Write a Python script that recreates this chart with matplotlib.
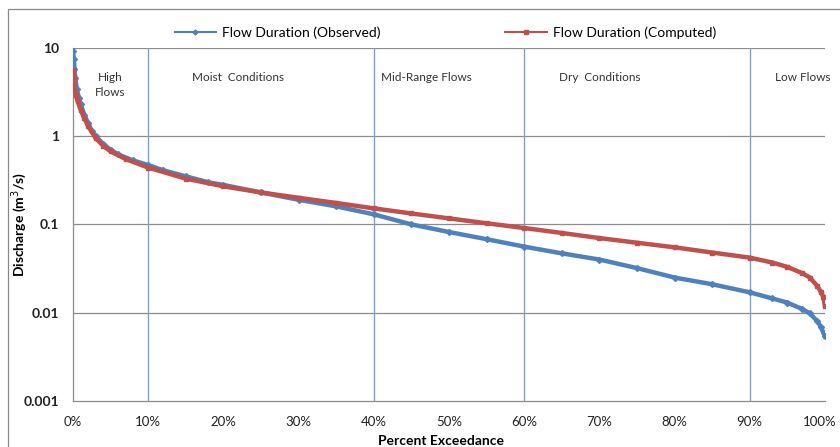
import matplotlib
matplotlib.use("Agg")
import matplotlib.pyplot as plt
from matplotlib.patches import Rectangle
from matplotlib.lines import Line2D
from matplotlib.transforms import ScaledTranslation
from matplotlib.ticker import FixedLocator, FuncFormatter

plt.rcParams['font.family'] = ['Lato', 'DejaVu Sans']

# observed flow duration curve (percent exceedance, m3/s)
pct_obs = [0, 0.1, 0.2, 0.3, 0.5, 0.8, 1, 1.5, 2, 2.5, 3, 4, 5, 6, 8, 10, 12, 15, 18, 20,
           25, 30, 35, 40, 45, 50, 55, 60, 65, 70, 75, 80, 85, 90, 93, 95, 97, 98, 99, 99.5, 100]
obs = [9.3, 7.5, 5.8, 4.6, 3.4, 2.7, 2.3, 1.75, 1.4, 1.15, 1.0, 0.82, 0.70, 0.62, 0.53, 0.47, 0.41,
       0.35, 0.30, 0.28, 0.23, 0.19, 0.16, 0.13, 0.10, 0.082, 0.068, 0.056, 0.047, 0.040, 0.032,
       0.025, 0.021, 0.017, 0.0145, 0.013, 0.011, 0.0098, 0.008, 0.0068, 0.0054]

# computed flow duration curve
pct_comp = [0, 0.1, 0.2, 0.4, 0.6, 1, 1.5, 2, 3, 4, 5, 7, 10, 15, 20, 25, 30, 35, 40, 45, 50, 55,
            60, 65, 70, 75, 80, 85, 90, 93, 95, 97, 98, 99, 99.5, 99.8, 100]
comp = [5.6, 4.6, 3.6, 2.9, 2.5, 2.0, 1.6, 1.3, 0.95, 0.78, 0.67, 0.55, 0.44, 0.33, 0.27, 0.23,
        0.20, 0.175, 0.152, 0.133, 0.117, 0.103, 0.091, 0.080, 0.070, 0.062, 0.055, 0.048, 0.042,
        0.037, 0.033, 0.028, 0.025, 0.020, 0.017, 0.015, 0.012]

zone_bounds = [10, 40, 60, 90]
zone_names = ["High\nFlows", "Moist  Conditions", "Mid-Range Flows", "Dry  Conditions", "Low Flows"]
zone_x = [5, 22, 47, 70, 97]

x_ticks = [0, 10, 20, 30, 40, 50, 60, 70, 80, 90, 100]
y_ticks = [0.001, 0.01, 0.1, 1, 10]
y_labels = ["0.001", "0.01", "0.1", "1", "10"]

blue = "#4F81BD"
red = "#C0504D"

fig = plt.figure(figsize=(8.4, 4.47), dpi=100)
ax = fig.add_axes([0.0869, 0.103, 0.8951, 0.790])

# outer chart border
fig.patches.append(Rectangle((8/840, -0.1), 1.2, 1.1 - 9/447, transform=fig.transFigure,
                             fill=False, edgecolor="#888888", lw=0.9))

ax.set_yscale("log")
ax.set_ylim(0.001, 10)
ax.set_xlim(0, 100)

for yv in y_ticks[1:]:
    ax.axhline(yv, color="#8c8c8c", lw=0.9, zorder=1)
for xb in zone_bounds:
    ax.axvline(xb, color="#7f9fcf", lw=1.0, zorder=1)

ax.plot(pct_obs, obs, color=blue, lw=3.2, marker="D", ms=3, zorder=3)
ax.plot(pct_comp, comp, color=red, lw=3.2, marker="s", ms=3.5, zorder=4)

for name, zx in zip(zone_names, zone_x):
    ax.text(zx, 5.3, name, ha="center", va="top", fontsize=8.5, color="#333333",
            linespacing=1.45)

ax.xaxis.set_major_locator(FixedLocator(x_ticks))
ax.xaxis.set_major_formatter(FuncFormatter(lambda v, p: "%d%%" % v))
ax.yaxis.set_major_locator(FixedLocator(y_ticks))
ax.yaxis.set_minor_locator(FixedLocator([]))
ax.set_yticklabels(y_labels, fontweight="bold", fontsize=10)
ax.tick_params(axis="both", length=0, pad=11, colors="#222222")
ax.tick_params(axis="x", labelsize=9.5)
ax.tick_params(axis="y", pad=10)

# nudge the last x label a little left so it stays inside the picture
last = ax.xaxis.get_major_ticks()[-1].label1
last.set_transform(last.get_transform() + ScaledTranslation(-4/72, 0, fig.dpi_scale_trans))

for s in ["top", "right"]:
    ax.spines[s].set_visible(False)
for s in ["left", "bottom"]:
    ax.spines[s].set_color("#8c8c8c")
    ax.spines[s].set_linewidth(0.9)

ax.set_xlabel("Percent Exceedance", fontweight="bold", fontsize=10, labelpad=1)
ax.xaxis.set_label_coords(0.49, -0.095)
ax.set_ylabel("Discharge (m$^3$/s)", fontweight="bold", fontsize=10)
ax.yaxis.set_label_coords(-0.058, 0.5)

handles = [Line2D([], [], color=blue, lw=1.5, marker="D", ms=2.5),
           Line2D([], [], color=red, lw=1.5, marker="s", ms=3)]
fig.legend(handles, ["Flow Duration (Observed)", "Flow Duration (Computed)"],
           loc="center", bbox_to_anchor=(0.53, 0.926), ncol=2, frameon=False,
           fontsize=10, columnspacing=9, handlelength=3, handletextpad=0.4)

fig.savefig("out.png", dpi=100)
